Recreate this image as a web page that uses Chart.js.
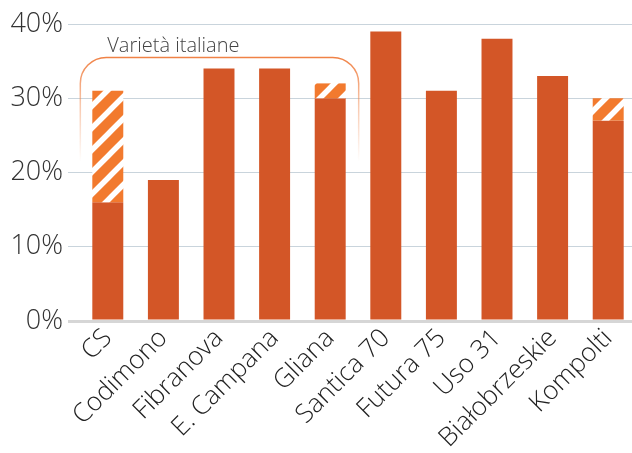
<!DOCTYPE html>
<html>
<head>
<meta charset="utf-8">
<script src="https://cdn.jsdelivr.net/npm/chart.js@4/dist/chart.umd.min.js"></script>
<style>
  html, body { margin: 0; padding: 0; background: #fff; overflow: hidden; }
  #wrap { width: 636px; height: 453px; position: relative; }
</style>
</head>
<body>
<div id="wrap"><canvas id="hempChart"></canvas></div>
<script>
const varieties = ['CS', 'Codimono', 'Fibranova', 'E. Campana', 'Gliana', 'Santica 70', 'Futura 75', 'Uso 31', 'Białobrzeskie', 'Kompolti'];
const baseValues = [16, 19, 34, 34, 30, 39, 31, 38, 33, 27];
const rangeTops = [31, null, null, null, 32, null, null, null, null, 30];
const yTicks = [0, 10, 20, 30, 40];
const groupLabel = 'Varietà italiane';
const groupFirst = 0;
const groupLast = 4;

const barColor = '#d35627';
const hatchColor = '#f27a2e';
const fontFamily = '"Open Sans"';

function makeHatch() {
    const s = 22;
    const c = document.createElement('canvas');
    c.width = s; c.height = s;
    const g = c.getContext('2d');
    g.fillStyle = hatchColor;
    g.fillRect(0, 0, s, s);
    g.strokeStyle = '#fff';
    g.lineWidth = 5.5;
    g.beginPath();
    g.moveTo(-s / 2, s / 2); g.lineTo(s / 2, -s / 2);
    g.moveTo(0, s); g.lineTo(s, 0);
    g.moveTo(s / 2, s * 1.5); g.lineTo(s * 1.5, s / 2);
    g.stroke();
    return g.createPattern(c, 'repeat');
}

const hatchData = rangeTops.map((top, i) => top === null ? null : [baseValues[i], top]);

const groupBracket = {
    id: 'groupBracket',
    afterDatasetsDraw(chart) {
        const ctx = chart.ctx;
        const x = chart.scales.x, y = chart.scales.y;
        const bw = chart.getDatasetMeta(0).data[0].width;
        const left = x.getPixelForValue(groupFirst) - bw / 2 - 12;
        const right = x.getPixelForValue(groupLast) + bw / 2 + 13;
        const top = y.getPixelForValue(35.5);
        const bottom = y.getPixelForValue(21.5);
        const r = 26;
        const grad = ctx.createLinearGradient(0, top, 0, bottom);
        grad.addColorStop(0, 'rgba(240,130,70,1)');
        grad.addColorStop(0.45, 'rgba(240,130,70,0.45)');
        grad.addColorStop(1, 'rgba(240,130,70,0)');
        ctx.save();
        ctx.strokeStyle = grad;
        ctx.lineWidth = 1.5;
        ctx.beginPath();
        ctx.moveTo(left, bottom);
        ctx.lineTo(left, top + r);
        ctx.arcTo(left, top, left + r, top, r);
        ctx.lineTo(right - r, top);
        ctx.arcTo(right, top, right, top + r, r);
        ctx.lineTo(right, bottom);
        ctx.stroke();
        ctx.fillStyle = '#444';
        ctx.font = '300 20px ' + fontFamily;
        ctx.textBaseline = 'bottom';
        ctx.textAlign = 'left';
        ctx.fillText(groupLabel, left + 27, top - 1);
        ctx.restore();
    }
};

const ctx = document.getElementById('hempChart').getContext('2d');

new Chart(ctx, {
    type: 'bar',
    data: {
        labels: varieties,
        datasets: [{
            label: 'base',
            data: baseValues,
            backgroundColor: barColor,
            grouped: false,
            order: 2,
            barPercentage: 0.557,
            categoryPercentage: 1
        }, {
            label: 'range',
            data: hatchData,
            backgroundColor: makeHatch(),
            grouped: false,
            order: 1,
            barPercentage: 0.557,
            categoryPercentage: 1
        }]
    },
    options: {
        responsive: true,
        maintainAspectRatio: false,
        animation: false,
        layout: { padding: { top: 24, right: 0, left: 0, bottom: 0 } },
        scales: {
            y: {
                min: 0,
                max: 40,
                afterBuildTicks: axis => { axis.ticks = yTicks.map(v => ({ value: v })); },
                afterFit: axis => { axis.width = 80; },
                border: { display: false },
                grid: {
                    color: ctx => ctx.tick && ctx.tick.value === 0 ? '#d6d6d6' : '#c9d4dc',
                    lineWidth: ctx => ctx.tick && ctx.tick.value === 0 ? 3 : 1,
                    tickLength: 12
                },
                ticks: {
                    color: '#333',
                    font: { family: fontFamily, size: 27, weight: 300 },
                    padding: 5,
                    callback: v => v + '%'
                }
            },
            x: {
                afterFit: axis => { axis.height = 132; },
                border: { display: false },
                grid: { display: false },
                ticks: {
                    color: '#222',
                    font: { family: fontFamily, size: 26, weight: 300 },
                    minRotation: 45,
                    maxRotation: 45,
                    autoSkip: false,
                    padding: -6
                }
            }
        },
        plugins: {
            legend: { display: false },
            tooltip: { enabled: false }
        }
    },
    plugins: [groupBracket]
});
</script>
</body>
</html>
